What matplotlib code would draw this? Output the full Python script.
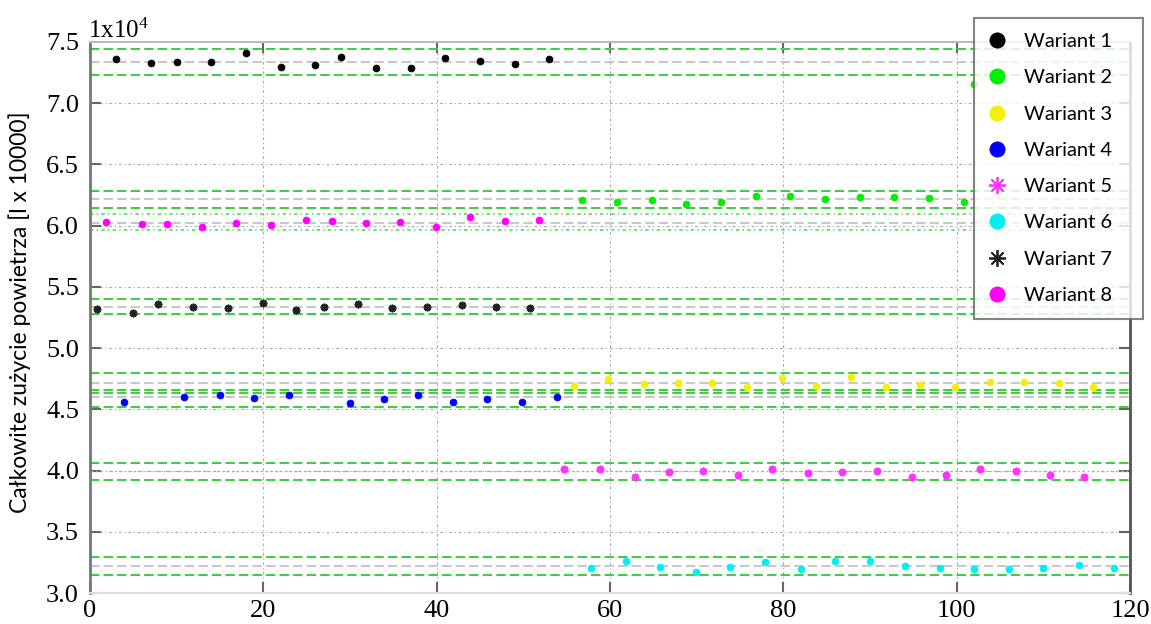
import numpy as np
import matplotlib
matplotlib.use("Agg")
import matplotlib.pyplot as plt

plt.rcParams['mathtext.fontset'] = 'custom'
plt.rcParams['mathtext.rm'] = 'Liberation Serif'
plt.rcParams['mathtext.it'] = 'Liberation Serif'

# ==========================
# Data
# ==========================

labels = ["Wariant 1", "Wariant 2", "Wariant 3", "Wariant 4",
          "Wariant 5", "Wariant 6", "Wariant 7", "Wariant 8"]

var1_x = [3, 7, 10, 14, 18, 22, 26, 29, 33, 37, 41, 45, 49, 53]
var1_y = [7.359, 7.326, 7.339, 7.339, 7.413, 7.298, 7.312, 7.380, 7.290,
          7.285, 7.367, 7.345, 7.318, 7.359]

var2_x = [56.8, 60.8, 64.8, 68.8, 72.8, 76.8, 80.8, 84.8, 88.8, 92.8,
          96.8, 100.8, 102.0]
var2_y = [6.207, 6.196, 6.207, 6.174, 6.196, 6.242, 6.242, 6.220, 6.234,
          6.234, 6.223, 6.193, 7.16]

var3_x = [55.8, 59.8, 63.9, 67.8, 71.8, 75.8, 79.8, 83.8, 87.8, 91.8,
          95.8, 99.8, 103.8, 107.8, 111.8, 115.7]
var3_y = [4.690, 4.744, 4.703, 4.717, 4.717, 4.684, 4.755, 4.690, 4.766,
          4.679, 4.700, 4.684, 4.722, 4.722, 4.717, 4.684]

var4_x = [3.9, 10.9, 15.0, 18.9, 23.0, 30.0, 33.9, 37.9, 41.9, 45.8,
          49.8, 53.9]
var4_y = [4.559, 4.602, 4.616, 4.592, 4.619, 4.548, 4.581, 4.613, 4.559,
          4.581, 4.559, 4.600]

var5_x = [54.7, 58.8, 62.9, 66.8, 70.7, 74.8, 78.7, 82.8, 86.8, 90.8,
          94.8, 98.8, 102.7, 106.8, 110.8, 114.7]
var5_y = [4.014, 4.014, 3.949, 3.987, 3.998, 3.960, 4.009, 3.976, 3.987,
          3.998, 3.949, 3.960, 4.014, 3.998, 3.962, 3.949]

var6_x = [57.8, 61.9, 65.8, 69.9, 73.9, 77.9, 82.0, 86.0, 90.0, 94.0,
          98.1, 102.0, 106.0, 110.0, 114.1, 118.1]
var6_y = [3.206, 3.259, 3.215, 3.174, 3.215, 3.253, 3.200, 3.259, 3.259,
          3.221, 3.206, 3.200, 3.195, 3.206, 3.229, 3.206]

var7_x = [0.8, 5.0, 7.9, 11.9, 15.9, 20.0, 23.8, 27.0, 30.9, 34.9, 38.9,
          42.9, 46.9, 50.8]
var7_y = [5.316, 5.289, 5.359, 5.337, 5.329, 5.365, 5.310, 5.337, 5.359,
          5.329, 5.337, 5.351, 5.332, 5.329]

var8_x = [1.9, 6.0, 8.9, 12.9, 16.9, 20.9, 24.9, 27.9, 31.9, 35.8, 39.9,
          43.8, 47.9, 51.8]
var8_y = [6.027, 6.011, 6.016, 5.991, 6.019, 6.002, 6.046, 6.035, 6.021,
          6.027, 5.991, 6.073, 6.035, 6.046]

# lower band, mean, upper band per variant
band_low = [7.23, 6.146, 4.657, 4.515, 3.922, 3.151, 5.278, 5.962]
band_mean = [7.339, 6.217, 4.712, 4.597, 3.998, 3.222, 5.337, 6.024]
band_high = [7.443, 6.285, 4.793, 4.635, 4.058, 3.293, 5.40, 6.092]

xs = [var1_x, var2_x, var3_x, var4_x, var5_x, var6_x, var7_x, var8_x]
ys = [var1_y, var2_y, var3_y, var4_y, var5_y, var6_y, var7_y, var8_y]

colors = ["#000000", "#00ee00", "#f2f200", "#0000ff",
          "#ff33ff", "#00f0f0", "#222222", "#ff00ff"]
markers = ["o", "o", "o", "o", (8, 2, 0), "o", (8, 2, 0), "o"]
sizes = [5, 5, 5, 5, 5.5, 5, 5.5, 5]

yticks = [3.0, 3.5, 4.0, 4.5, 5.0, 5.5, 6.0, 6.5, 7.0, 7.5]
xticks = [0, 20, 40, 60, 80, 100, 120]

# ==========================
# Plot
# ==========================

fig = plt.figure(figsize=(11.51, 6.24), dpi=100)
ax = fig.add_axes([90 / 1151, 1 - 593 / 624, 1040 / 1151, 551 / 624])

ax.set_xlim(0, 120)
ax.set_ylim(3.0, 7.5)
ax.set_xticks(xticks)
ax.set_yticks(yticks)
ax.set_yticklabels(["%.1f" % v for v in yticks])

grid_style = (0, (2.5, 2.5, 1, 2.5))
for v in yticks[1:-1]:
    ax.axhline(v, color="#a8a8a8", lw=0.8, ls=grid_style, zorder=1)
for v in xticks[1:-1]:
    ax.axvline(v, color="#a8a8a8", lw=0.8, ls=grid_style, zorder=1)

dash = (0, (4.5, 2))
for i in range(8):
    if i == 7:
        # dotted band for variant 8
        ax.axhline(band_low[i], color="#55dd55", lw=1.2,
                   ls=(0, (2, 2, 0.8, 2)), zorder=2)
        ax.axhline(band_high[i], color="#55dd55", lw=1.2,
                   ls=(0, (2, 2, 0.8, 2)), zorder=2)
        ax.axhline(band_mean[i], color="#c8c8c8", lw=1.5, ls=dash, zorder=2)
    elif i == 4:
        ax.axhline(band_low[i], color="#44cc44", lw=1.5, ls=dash, zorder=2)
        ax.axhline(band_high[i], color="#44cc44", lw=1.5, ls=dash, zorder=2)
        ax.axhline(band_mean[i], color="#b0b0b0", lw=1.0,
                   ls=(0, (2, 2, 1, 2)), zorder=2)
    else:
        ax.axhline(band_low[i], color="#44cc44", lw=1.5, ls=dash, zorder=2)
        ax.axhline(band_high[i], color="#44cc44", lw=1.5, ls=dash, zorder=2)
        ax.axhline(band_mean[i], color="#c8c8c8", lw=1.5, ls=dash, zorder=2)

handles = []
for i in range(8):
    h, = ax.plot(xs[i], ys[i], ls="none", marker=markers[i],
                 ms=sizes[i], color=colors[i], mec=colors[i],
                 mew=1.3 if markers[i] != "o" else 0.5,
                 label=labels[i], zorder=3)
    handles.append(h)

ax.tick_params(direction="in", length=8, width=1.5, color="#666666",
               top=True, right=True, labelsize=19, pad=8)
for lab in ax.get_xticklabels() + ax.get_yticklabels():
    lab.set_fontfamily("Liberation Serif")
ax.tick_params(axis="x", pad=5)

ax.spines["left"].set_color("#777777")
ax.spines["left"].set_linewidth(2)
ax.spines["right"].set_color("#555555")
ax.spines["right"].set_linewidth(2)
ax.spines["top"].set_color("#bbbbbb")
ax.spines["top"].set_linewidth(1.5)
ax.spines["bottom"].set_color("#dddddd")
ax.spines["bottom"].set_linewidth(1.5)

fig.text(88 / 1151, 1 - 38 / 624, r"1x10$^{4}$", fontsize=18,
         family="Liberation Serif", ha="left", va="baseline")

fig.text(20 / 1151, 1 - 312 / 624,
         "Całkowite zużycie powietrza [l x 10000]",
         rotation=90, ha="center", va="center",
         fontsize=16.5, family="Lato")

leg = fig.legend(handles=handles, loc="upper left",
                 bbox_to_anchor=(974 / 1151, 1 - 18 / 624 - 0.01,
                                 169 / 1151, 0.01),
                 mode="expand", ncol=1, frameon=True, fancybox=False,
                 prop={"family": "Lato", "size": 14.5},
                 markerscale=2.2, handlelength=0.8, handletextpad=0.95,
                 labelspacing=0.95, borderpad=0.75, borderaxespad=0)
leg.get_frame().set_edgecolor("#666666")
leg.get_frame().set_linewidth(1.5)
leg.set_zorder(10)

plt.savefig("out.png", dpi=100)

plt.close()
